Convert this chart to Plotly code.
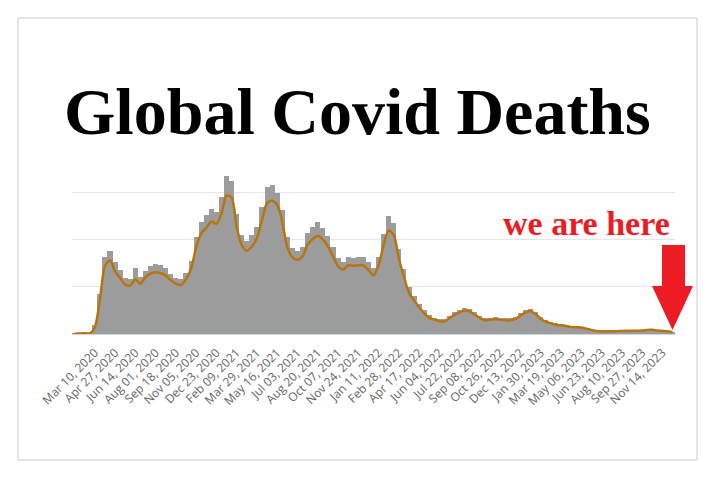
import datetime as dt
import plotly.graph_objects as go

# ---- data, one sample every 12 days from 2020-01-22 ----
start_date = "2020-01-22"
step_days = 12

avg_deaths = [20, 50, 90, 60, 700, 3650, 7200, 7800, 6650, 5950,
              5250, 5150, 5780, 5350, 6050, 6400, 6550, 6450, 6200, 5700,
              5350, 5200, 5800, 6950, 9200, 10700, 11270, 11950, 11700, 12800,
              14700, 14500, 11400, 9450, 8850, 9300, 10200, 12100, 13900, 14150,
              13700, 11900, 9200, 8150, 7900, 8250, 9500, 10100, 10400, 10050,
              9320, 8260, 7200, 6850, 7300, 7250, 7300, 7300, 6800, 6250,
              7300, 9450, 11000, 10500, 8000, 6100, 4400, 3550, 2850, 2200,
              1720, 1530, 1350, 1340, 1700, 2050, 2300, 2500, 2400, 2050,
              1700, 1450, 1520, 1580, 1500, 1450, 1450, 1600, 1950, 2280,
              2420, 2100, 1620, 1300, 1130, 980, 910, 860, 740, 720,
              690, 560, 440, 320, 290, 280, 280, 300, 330, 350,
              350, 350, 360, 420, 440, 380, 340, 300, 200]

daily_deaths = [30, 70, 120, 90, 1000, 4300, 8200, 8800, 7600, 6800,
                5900, 5800, 7000, 6100, 6700, 7200, 7400, 7300, 7000, 6400,
                6000, 5800, 6500, 7800, 10300, 11900, 12600, 13300, 13000, 14600,
                16800, 16300, 12800, 10500, 9900, 10500, 11400, 13500, 15600, 15800,
                15000, 13200, 10300, 9100, 8800, 9200, 10700, 11400, 11900, 11300,
                10400, 9200, 8100, 7700, 8200, 8100, 8200, 8200, 7600, 7000,
                8200, 10600, 12500, 11800, 9000, 6900, 5000, 4000, 3200, 2500,
                2000, 1750, 1550, 1550, 1950, 2350, 2600, 2800, 2700, 2300,
                1950, 1650, 1700, 1800, 1700, 1650, 1650, 1800, 2200, 2550,
                2700, 2350, 1850, 1500, 1300, 1120, 1040, 980, 850, 820,
                780, 640, 500, 370, 330, 320, 320, 340, 380, 400,
                400, 400, 410, 480, 500, 430, 390, 340, 230]

tick_start = "2020-03-10"
tick_step_days = 48
tick_count = 29

title_text = "Global Covid Deaths"
note_text = "we are here"

# ---- derived dates ----
d0 = dt.date.fromisoformat(start_date)
dates = [d0 + dt.timedelta(days=step_days * i) for i in range(len(avg_deaths))]
t0 = dt.date.fromisoformat(tick_start)
tick_dates = [t0 + dt.timedelta(days=tick_step_days * i) for i in range(tick_count)]

# ---- layout geometry (pixels) ----
W, H = 720, 480
L, R, T, B = 72, 45, 174, 146
PW, PH = W - L - R, H - T - B


def px(x, y):
    return (x - L) / PW, (H - B - y) / PH


fig = go.Figure()
fig.add_trace(go.Bar(
    x=dates, y=daily_deaths,
    width=step_days * 86400000,
    marker=dict(color="#9c9c9c", line=dict(width=0)),
    hoverinfo="skip", showlegend=False,
))
fig.add_trace(go.Scatter(
    x=dates, y=avg_deaths, mode="lines",
    line=dict(color="#b8750e", width=2.5, shape="spline", smoothing=0.8),
    showlegend=False,
))

x_lo = d0 - dt.timedelta(days=step_days / 2)
x_hi = dates[-1] + dt.timedelta(days=step_days / 2)

fig.update_layout(
    width=W, height=H,
    margin=dict(l=L, r=R, t=T, b=B, pad=0),
    paper_bgcolor="white", plot_bgcolor="white",
    bargap=0,
    xaxis=dict(
        type="date", range=[x_lo, x_hi],
        tickvals=tick_dates, tickformat="%b %d, %Y", tickangle=-45,
        tickfont=dict(family="Open Sans", size=12, color="#666666"),
        ticklabelstandoff=6,
        showgrid=False, showline=True, linecolor="#ccd6eb", linewidth=1,
        ticks="", zeroline=False,
    ),
    yaxis=dict(
        range=[0, 17000], tickvals=[5000, 10000, 15000],
        showticklabels=False, gridcolor="#e6e6e6", gridwidth=1,
        zeroline=False, showline=False,
    ),
)

# frame around the whole chart
x1, y1 = px(18, 18)
x2, y2 = px(697, 460)
fig.add_shape(type="rect", xref="paper", yref="paper", x0=x1, y0=y2, x1=x2, y1=y1,
              line=dict(color="#cccccc", width=1), fillcolor="rgba(0,0,0,0)", layer="below")

# red arrow
pts = [(662, 245), (685, 245), (685, 286), (693, 286), (672.5, 330), (652, 286), (662, 286)]
path = "M " + " L ".join(f"{px(a, b)[0]:.5f},{px(a, b)[1]:.5f}" for a, b in pts) + " Z"
fig.add_shape(type="path", xref="paper", yref="paper", path=path,
              fillcolor="#ed1c24", line=dict(color="#ed1c24", width=0))

# title and note
tx, ty = px(357, 111)
fig.add_annotation(text=f"<b>{title_text}</b>", xref="paper", yref="paper", x=tx, y=ty,
                   xanchor="center", yanchor="middle", showarrow=False,
                   font=dict(family="Liberation Serif", size=66, color="black"))
nx, ny = px(586, 223)
fig.add_annotation(text=f"<b>{note_text}</b>", xref="paper", yref="paper", x=nx, y=ny,
                   xanchor="center", yanchor="middle", showarrow=False,
                   font=dict(family="Liberation Serif", size=34, color="#ed1c24"))

fig.write_html("out.html")
